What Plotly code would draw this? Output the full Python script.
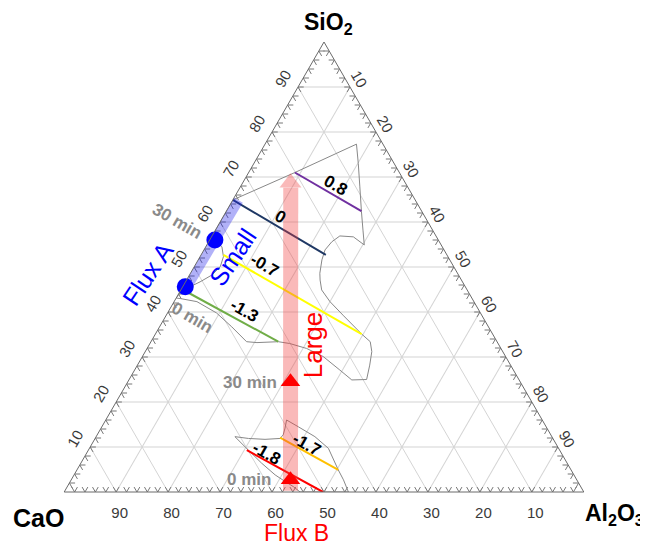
import plotly.graph_objects as go

# ---------------- data (compositions in wt%) ----------------
# Flux A : markers at 0 min and 30 min (SiO2, Al2O3; CaO = balance)
flux_a_times = ["0 min", "30 min"]
flux_a_sio2 = [45.6, 56.0]
flux_a_al2o3 = [0.5, 1.0]
# shaded path of flux A ("Small")
flux_a_path_sio2 = [45.6, 65.0]
flux_a_path_al2o3 = [0.5, 0.8]

# Flux B : markers at 0 min and 30 min
flux_b_times = ["0 min", "30 min"]
flux_b_sio2 = [2.7, 24.5]
flux_b_al2o3 = [42.2, 31.3]
# shaded arrow of flux B ("Large")
flux_b_path_sio2 = [0.3, 67.6]
flux_b_path_al2o3 = [43.4, 9.8]
flux_b_head_sio2 = [68.7]
flux_b_head_al2o3 = [9.2]

# iso-lines (label, colour, start SiO2, start Al2O3, end SiO2, end Al2O3)
iso_labels = ["0.8", "0", "-0.7", "-1.3", "-1.7", "-1.8"]
iso_colors = ["#7030a0", "#1f3864", "#ffff00", "#70ad47", "#ffc000", "#ff0000"]
iso_sio2_start = [71.0, 64.9, 52.7, 44.5, 12.1, 9.3]
iso_al2o3_start = [8.9, 0.0, 4.3, 1.3, 35.5, 30.5]
iso_sio2_end = [62.4, 52.7, 35.1, 33.4, 4.9, 0.0]
iso_al2o3_end = [26.0, 24.0, 39.7, 24.5, 50.3, 49.8]

# outlined liquid regions
region1_sio2 = [64.9, 71.0, 77.3, 73.0, 67.8, 62.4, 58.2, 54.9, 56.7, 56.9, 55.6, 53.8,
                51.6, 48.6, 47.1, 44.9, 42.3, 39.3, 35.1, 33.4, 31.2, 28.2, 25.0, 24.9,
                27.1, 30.1, 31.9, 33.0, 33.4, 33.2, 33.4, 36.7, 39.8, 42.3, 43.0, 43.1,
                45.1, 45.6, 46.7, 48.2, 50.1, 52.3, 54.5, 56.0, 57.0, 64.9]
region1_al2o3 = [0.0, 8.9, 17.6, 20.1, 23.0, 26.0, 28.4, 30.3, 27.3, 24.6, 23.7, 23.3,
                 23.8, 24.9, 25.7, 27.1, 30.0, 34.0, 39.7, 42.2, 43.6, 44.7, 45.7, 42.9,
                 39.5, 34.8, 30.7, 26.9, 24.5, 20.5, 18.4, 13.9, 9.4, 4.4, 0.8, 0.0,
                 0.3, 1.4, 2.8, 4.3, 5.0, 4.5, 3.1, 1.0, 0.0, 0.0]
region2_sio2 = [12.3, 11.9, 11.7, 11.9, 12.7, 14.2, 16.0, 14.5, 12.3, 9.7, 4.9, 2.7, 0.0,
                0.0, 1.2, 2.3, 3.8, 6.4, 9.3, 12.3]
region2_al2o3 = [26.7, 29.5, 32.8, 35.6, 35.8, 35.4, 34.8, 37.8, 42.1, 46.0, 50.3, 52.4, 54.7,
                 45.4, 43.5, 41.4, 38.7, 34.8, 30.8, 26.7]

grid_vals = [10, 20, 30, 40, 50, 60, 70, 80, 90]
minor_step = 2

FONT = "Liberation Sans, Arial, sans-serif"


def cao(sio2, al2o3):
    return [None if s is None else 100 - s - a for s, a in zip(sio2, al2o3)]


fig = go.Figure()

# minor "v" ticks along the three edges (segments of the two inner grid directions)
d = 1.1
ta, tb, tc = [], [], []
for v in range(minor_step, 100, minor_step):
    segs = [
        ((0, v, 100 - v), (d, v, 100 - v - d)), ((0, v, 100 - v), (d, v - d, 100 - v)),
        ((v, 100 - v, 0), (v, 100 - v - d, d)), ((v, 100 - v, 0), (v - d, 100 - v, d)),
        ((v, 0, 100 - v), (v, d, 100 - v - d)), ((v, 0, 100 - v), (v - d, d, 100 - v)),
    ]
    for seg in segs:
        for p in seg:
            ta.append(p[0]); tb.append(p[1]); tc.append(p[2])
        ta.append(None); tb.append(None); tc.append(None)
fig.add_trace(go.Scatterternary(a=ta, b=tb, c=tc, mode="lines",
                                line=dict(color="#777777", width=1),
                                hoverinfo="skip", showlegend=False))

# outlined regions
for rs, ra in [(region1_sio2, region1_al2o3), (region2_sio2, region2_al2o3)]:
    fig.add_trace(go.Scatterternary(a=rs, b=cao(rs, ra), c=ra, mode="lines",
                                    line=dict(color="#888888", width=1),
                                    showlegend=False))

# iso-lines
for lab, col, s0, a0, s1, a1 in zip(iso_labels, iso_colors, iso_sio2_start, iso_al2o3_start,
                                    iso_sio2_end, iso_al2o3_end):
    fig.add_trace(go.Scatterternary(a=[s0, s1], b=cao([s0, s1], [a0, a1]), c=[a0, a1],
                                    mode="lines", line=dict(color=col, width=2),
                                    name=lab, showlegend=False))

# flux A shaded path
fig.add_trace(go.Scatterternary(a=flux_a_path_sio2, b=cao(flux_a_path_sio2, flux_a_path_al2o3),
                                c=flux_a_path_al2o3, mode="lines", cliponaxis=False,
                                line=dict(color="rgba(40,40,235,0.36)", width=13),
                                showlegend=False))
# flux B shaded arrow
fig.add_trace(go.Scatterternary(a=flux_b_path_sio2, b=cao(flux_b_path_sio2, flux_b_path_al2o3),
                                c=flux_b_path_al2o3, mode="lines", cliponaxis=False,
                                line=dict(color="rgba(240,60,60,0.36)", width=15),
                                showlegend=False))
fig.add_trace(go.Scatterternary(a=flux_b_head_sio2, b=cao(flux_b_head_sio2, flux_b_head_al2o3),
                                c=flux_b_head_al2o3, mode="markers", cliponaxis=False,
                                marker=dict(symbol="triangle-up", size=19,
                                            color="rgba(240,60,60,0.36)",
                                            line=dict(width=0)),
                                showlegend=False))

# flux markers
fig.add_trace(go.Scatterternary(a=flux_a_sio2, b=cao(flux_a_sio2, flux_a_al2o3), c=flux_a_al2o3,
                                mode="markers", text=flux_a_times, name="Flux A", cliponaxis=False,
                                marker=dict(symbol="circle", size=17, color="#0000ff"),
                                showlegend=False))
fig.add_trace(go.Scatterternary(a=flux_b_sio2, b=cao(flux_b_sio2, flux_b_al2o3), c=flux_b_al2o3,
                                mode="markers", text=flux_b_times, name="Flux B", cliponaxis=False,
                                marker=dict(symbol="triangle-up", size=17, color="#ff0000"),
                                showlegend=False))

axis_common = dict(
    min=0, tickmode="array", tickvals=grid_vals,
    showgrid=True, gridcolor="#d4d4d4", gridwidth=1,
    showline=True, linecolor="#6a6a6a", linewidth=1,
    tickfont=dict(family=FONT, size=15, color="#3a3a3a"),
    title=dict(text=""),
)

# the page body adds an 8 px margin, so the figure is 8 px smaller on each side
fig.update_layout(
    width=640, height=539,
    margin=dict(l=56, r=64, t=34, b=55),
    paper_bgcolor="white",
    font=dict(family=FONT, size=14),
    ternary=dict(
        sum=100,
        bgcolor="white",
        aaxis=dict(axis_common, tickangle=-60, ticks="outside", ticklen=5,
                   tickcolor="rgba(0,0,0,0)"),
        baxis=dict(axis_common, tickangle=0, ticks="outside", ticklen=7,
                   tickcolor="rgba(0,0,0,0)"),
        caxis=dict(axis_common, tickangle=60, ticks=""),
    ),
    showlegend=False,
)

ann = []


def add_text(text, x, y, size, color, angle=0, bold=True, xanchor="center"):
    ann.append(dict(text=text, x=x, y=y, xref="paper", yref="paper", showarrow=False,
                    textangle=angle, xanchor=xanchor, yanchor="middle",
                    font=dict(family=FONT, size=size, color=color,
                              weight="bold" if bold else "normal")))


# vertex titles
add_text("SiO<sub>2</sub>", 0.508, 1.042, 23, "#000000")
add_text("CaO", -0.05, -0.058, 25, "#000000")
add_text("Al<sub>2</sub>O<sub>3</sub>", 0.999, -0.051, 23, "#000000", xanchor="left")

# iso-line labels
iso_label_pos = [(0.5225, 0.682), (0.4154, 0.6133), (0.3865, 0.5044),
                 (0.3462, 0.4044), (0.4667, 0.1056), (0.3898, 0.086)]
for lab, (x, y) in zip(iso_labels, iso_label_pos):
    add_text(lab, x, y, 17, "#000000", angle=30)

# time labels
add_text(flux_a_times[1], 0.2179, 0.6007, 17, "#8a8a8a", angle=30)
add_text(flux_a_times[0], 0.2456, 0.3878, 17, "#8a8a8a", angle=30)
add_text(flux_b_times[1], 0.3577, 0.2438, 17, "#8a8a8a")
add_text(flux_b_times[0], 0.3558, 0.0267, 17, "#8a8a8a")

# flux names
add_text("Flux A", 0.1606, 0.4844, 25, "#0000ff", angle=-56, bold=False)
add_text("Small", 0.324, 0.5229, 25, "#0000ff", angle=-56, bold=False)
add_text("Large", 0.4794, 0.3267, 26, "#ff0000", angle=-90, bold=False)
add_text("Flux B", 0.4462, -0.0911, 23, "#ff0000", bold=False)

fig.update_layout(annotations=ann)

fig.write_html("out.html")
